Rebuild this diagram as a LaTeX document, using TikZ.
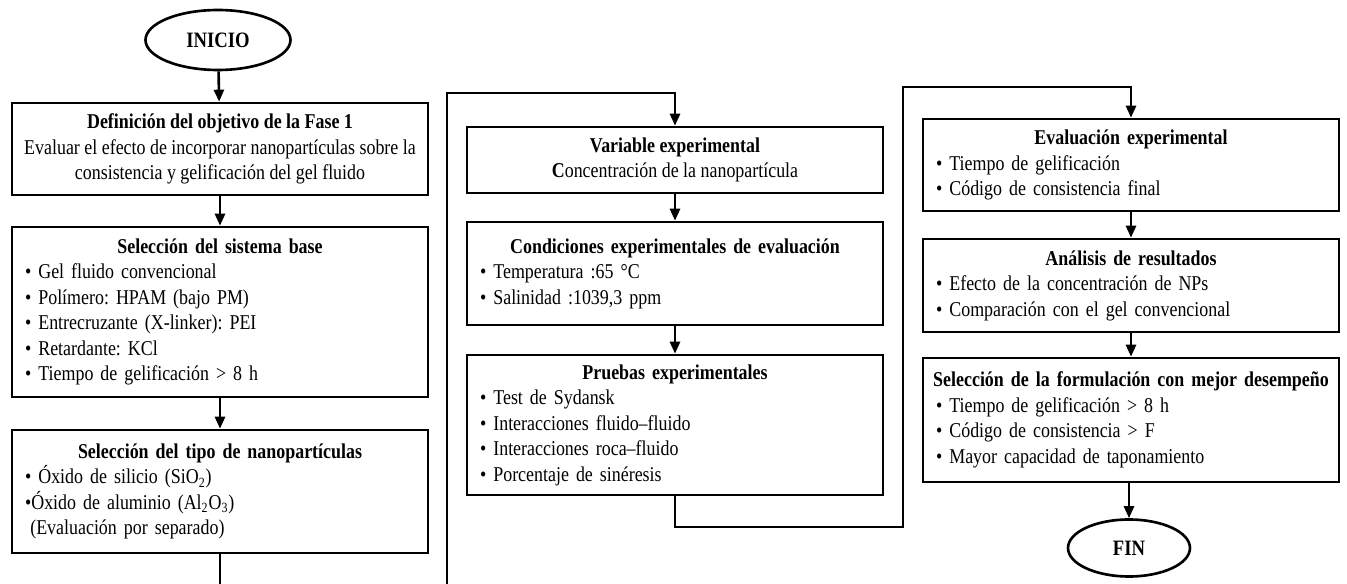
\documentclass[tikz,border=0pt]{standalone}
\usepackage{fontspec}
\setmainfont{Liberation Serif}[FakeStretch=0.85]
\frenchspacing
\usetikzlibrary{arrows.meta,positioning,shapes.geometric}
\tikzset{
  >={Triangle[length=2.4mm,width=2mm]},
  stage/.style={draw,line width=1.5pt,minimum width=8.32cm,minimum height=#1,
    align=center,inner sep=0pt,font=\fontsize{12}{14.5}\selectfont},
  stage/.default=1.8cm,
  list/.style={stage=#1,text width=7.8cm,align=left},
  terminal/.style={ellipse,draw,line width=1.5pt,inner sep=0pt,
    font=\fontsize{12.5}{14}\selectfont\bfseries},
  link/.style={->,line width=1.5pt},
}
\newcommand{\ttl}[1]{\makebox[\linewidth]{\bfseries #1}}
\newcommand{\itm}{\textbullet\ }

\begin{document}
\begin{tikzpicture}[x=0.02cm,y=-0.02cm]
  \clip (0,0) rectangle (1347,584);
  % first column
  \node[terminal,minimum width=2.9cm,minimum height=1.2cm] (inicio) at (218,40) {INICIO};
  \node[stage=1.84cm] (obj) at (220,149) {\textbf{Definición del objetivo de la Fase 1}\\
    Evaluar el efecto de incorporar nanopartículas sobre la\\
    consistencia y gelificación del gel fluido};
  \node[list=3.4cm] (base) at (220,312) {\ttl{Selección del sistema base}\\
    \itm Gel fluido convencional\\
    \itm Polímero: HPAM (bajo PM)\\
    \itm Entrecruzante (X-linker): PEI\\
    \itm Retardante: KCl\\
    \itm Tiempo de gelificación > 8 h};
  \node[list=2.46cm] (nps) at (220,491.5) {\ttl{Selección del tipo de nanopartículas}\\
    \itm Óxido de silicio (SiO\textsubscript{2})\\
    \textbullet Óxido de aluminio (Al\textsubscript{2}O\textsubscript{3})\\
    \hspace{0.25em}(Evaluación por separado)};
  % second column
  \node[stage=1.32cm] (var) at (675,160) {\textbf{Variable experimental}\\
    \textbf{C}oncentración de la nanopartícula};
  \node[list=2.06cm] (cond) at (675,273.5) {\ttl{Condiciones experimentales de evaluación}\\
    \itm Temperatura :65 °C\\
    \itm Salinidad :1039,3 ppm};
  \node[list=2.8cm] (prue) at (675,425) {\ttl{Pruebas experimentales}\\
    \itm Test de Sydansk\\
    \itm Interacciones fluido–fluido\\
    \itm Interacciones roca–fluido\\
    \itm Porcentaje de sinéresis};
  % third column
  \node[list=1.84cm] (eval) at (1131,165) {\ttl{Evaluación experimental}\\
    \itm Tiempo de gelificación\\
    \itm Código de consistencia final};
  \node[list=1.86cm] (anal) at (1131,285.5) {\ttl{Análisis de resultados}\\
    \itm Efecto de la concentración de NPs\\
    \itm Comparación con el gel convencional};
  \node[list=2.48cm] (sel) at (1131,420) {\ttl{Selección de la formulación con mejor desempeño}\\
    \itm Tiempo de gelificación > 8 h\\
    \itm Código de consistencia > F\\
    \itm Mayor capacidad de taponamiento};
  \node[terminal,minimum width=2.44cm,minimum height=1.14cm] (fin) at (1129,548) {FIN};
  % turning points
  \coordinate (low1) at (447,610);
  \coordinate (top1) at (447,93);
  \coordinate (low2) at (903,527);
  \coordinate (top2) at (903,87);
  % connectors
  \draw[link] (inicio) -- (obj);
  \draw[link] (obj) -- (base);
  \draw[link] (base) -- (nps);
  \draw[link] (nps.south) |- (low1) -- (top1) -| (var.north);
  \draw[link] (var) -- (cond);
  \draw[link] (cond) -- (prue);
  \draw[link] (prue.south) |- (low2) -- (top2) -| (eval.north);
  \draw[link] (eval) -- (anal);
  \draw[link] (anal) -- (sel);
  \draw[link] (sel.south -| fin) -- (fin);
\end{tikzpicture}
\end{document}
